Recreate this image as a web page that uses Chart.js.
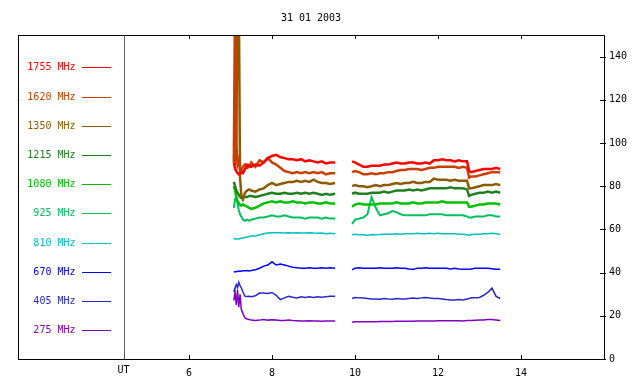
<!DOCTYPE html>
<html>
<head>
<meta charset="utf-8">
<script src="https://cdn.jsdelivr.net/npm/chart.js@4.4.0/dist/chart.umd.min.js"></script>
<style>
html, body { margin: 0; padding: 0; background: #fff; }
</style>
</head>
<body>
<canvas id="radioChart" width="640" height="384"></canvas>
<script>
// Tiêu đề + trục
var chartTitle = "31 01 2003";
var xTicks = [6, 8, 10, 12, 14];
var yTicks = [0, 20, 40, 60, 80, 100, 120, 140];
var labels = ["1755 MHz", "1620 MHz", "1350 MHz", "1215 MHz", "1080 MHz", "925 MHz", "810 MHz", "670 MHz", "405 MHz", "275 MHz"];

// Giờ UT (đoạn 1, khoảng trống, đoạn 2)
var times = [
  7.08, 7.11, 7.14, 7.17, 7.2, 7.23, 7.26, 7.3, 7.35, 7.4, 7.45, 7.5,
  7.6, 7.7, 7.8, 7.9, 8.0, 8.1, 8.2, 8.3, 8.4, 8.5, 8.6, 8.7, 8.8, 8.9, 9.0, 9.1, 9.2, 9.3, 9.4, 9.52,
  9.7,
  9.93, 10.0, 10.1, 10.2, 10.3, 10.4, 10.5, 10.6, 10.7, 10.8, 10.9, 11.0, 11.1, 11.2, 11.3, 11.4, 11.5,
  11.6, 11.7, 11.8, 11.9, 12.0, 12.1, 12.2, 12.3, 12.4, 12.5, 12.6, 12.7, 12.75,
  12.8, 12.9, 13.0, 13.1, 13.2, 13.3, 13.4, 13.5
];

var f1755 = [
  91, 88, 87, 86, 85.5, 86, 86.5, 86, 88, 90, 89.5, 89,
  90, 89.5, 91, 93, 94, 94.5, 93.5, 93, 92.5, 92.5, 92, 92.5, 91.5, 92, 91.5, 91, 91.5, 90.5, 91, 91,
  null,
  91.5, 91, 90, 89, 89, 89.5, 89.5, 89.5, 90, 90, 90.5, 91, 90.5, 90.5, 91, 91, 90.5,
  90.5, 91, 90.5, 92, 92, 92.5, 92, 92, 91.5, 92, 91.5, 91.5, 87,
  86.5, 87, 87.5, 88, 88, 88, 88.5, 88
];
var f1620 = [
  91, 170, 100, 90, 92, 88, 87, 89, 90, 88.5, 89, 91,
  89, 92, 91, 93, 91, 90, 88.5, 87, 86.5, 86, 86.5, 86, 86.5, 86, 86.5, 86, 86.5, 85.5, 86, 86,
  null,
  86.5, 87, 86.5, 85.5, 85.5, 86, 85.5, 86, 86, 86.5, 86.5, 87, 87.5, 87.5, 88, 88, 88,
  87.5, 88, 88.5, 88.5, 89, 89, 89, 89, 89, 88.5, 89, 88.5, 84,
  84.5, 84.5, 85, 85.5, 86, 86.5, 86.5, 86.5
];
var f1350 = [
  94, 92, 100, 170, 170, 84, 76, 74, 77, 78, 78.5, 78,
  77.5, 78.5, 79, 80.5, 81.5, 80.5, 81, 81.5, 82, 82, 82.5, 82, 82.5, 82, 83, 82, 81.5, 81.5, 81, 81.5,
  null,
  80, 80.5, 80, 80, 79.5, 80, 80.5, 80, 80.5, 80.5, 81, 81.5, 81, 81.5, 81.5, 82, 81.5,
  81.5, 82, 82, 83.5, 83, 83, 83, 82.5, 83, 82.5, 82.5, 82.5, 79,
  79, 79.5, 80, 80.5, 80.5, 80.5, 81, 80.5
];
var f1215 = [
  82, 80, 78, 77, 76, 75, 74.5, 74.5, 75, 75, 75.5, 75.5,
  75, 75.5, 76, 76.5, 77, 76.5, 76.5, 77, 76.5, 76.5, 77, 76.5, 77, 76.5, 77, 76.5, 76, 76.5, 76, 76.5,
  null,
  76.5, 77, 76.5, 76.5, 76.5, 77, 77, 77, 77.5, 77, 77.5, 78, 78, 78, 78.5, 78, 78.5,
  78, 78.5, 79, 79, 79, 79, 79, 79.5, 79, 79, 79, 78.5, 75.5,
  76, 76.5, 77, 77, 77.5, 77, 77.5, 77
];
var f1080 = [
  80, 78, 75, 73, 72, 71.5, 71, 71.5, 71, 70.5, 70, 69.5,
  70, 71, 72, 72.5, 73, 72.5, 73, 72.5, 72.5, 73, 72.5, 72.5, 72, 72.5, 72.5, 72, 72, 72.5, 72, 72,
  null,
  70.5, 71.5, 72, 71.5, 71.5, 71.5, 71.5, 72, 72, 72, 72, 72.5, 72, 72, 72, 72.5, 72,
  72, 72.5, 72.5, 72.5, 72.5, 73, 72.5, 72.5, 72.5, 72.5, 72.5, 72.5, 70.5,
  70.5, 71, 71.5, 71.5, 72, 72, 72, 71.5
];
var f925 = [
  70, 74, 75, 72, 69, 67, 66, 64.5, 64, 64.5, 64, 64.5,
  65, 65.5, 65.5, 66, 66.5, 66, 66, 66.5, 66, 65.5, 65.5, 65.5, 65, 65.5, 65.5, 65.5, 65, 65.5, 65, 65,
  null,
  62.5, 64.5, 65, 65.5, 67, 75, 70, 66.5, 67, 67.5, 68.5, 68, 67, 66.5, 66.5, 66.5, 66.5,
  66.5, 66.5, 67, 67, 67, 67, 66.5, 66.5, 66.5, 66.5, 66.5, 66, 65.5,
  65.5, 66, 66, 66, 66.5, 66.5, 66, 66
];
var f810 = [
  56, 55.5, 55.5, 55.5, 55.7, 55.7, 56, 56, 56.3, 56.5, 56.7, 57,
  57, 57.5, 58, 58.3, 58.5, 58.5, 58.5, 58.3, 58.5, 58.3, 58.5, 58.3, 58.3, 58.5, 58.3, 58.2, 58.3, 58, 58.2, 58,
  null,
  57.5, 57.8, 57.5, 57.5, 57.3, 57.5, 57.5, 57.6, 57.8, 57.8, 57.8, 58, 57.8, 58, 58, 58, 58.2,
  58, 58, 58.2, 58, 58.2, 58, 58, 58, 58, 57.8, 57.8, 57.5, 57.3,
  57.6, 57.8, 57.8, 58, 58, 58.2, 58, 57.8
];
var f670 = [
  40.5, 40.3, 40.5, 40.5, 40.7, 40.5, 40.7, 40.8, 40.8, 41, 40.8, 41,
  41.3, 42, 43, 43.5, 45, 43.5, 44, 43.5, 43, 42.5, 42.3, 42, 42, 42.2, 42, 42, 42.2, 42, 42.2, 42,
  null,
  41.3, 42, 42.2, 42, 42, 42, 42, 42.2, 42, 42, 42, 42.2, 42, 42, 41.7, 41.5, 42,
  42, 42.2, 42, 42, 42, 42, 42, 41.7, 42, 41.7, 41.5, 41.5, 41.5,
  41.7, 42, 42, 42, 42, 41.8, 41.6, 41.5
];
var f405 = [
  31, 33, 34.5, 33, 35.5, 34, 33, 31, 29, 28.9, 29, 28.8,
  29.3, 30.5, 30.5, 30.3, 30.8, 29.5, 27.5, 28.3, 29, 28.6, 28.3, 28.8, 28.5, 28.8, 28.5, 28.8, 28.6, 28.8, 29, 29,
  null,
  28, 28.5, 28.3, 28.2, 28, 27.8, 27.8, 27.7, 28, 27.8, 27.7, 28, 27.8, 27.8, 28, 28.2, 28,
  28.3, 28.5, 28.2, 28, 28, 27.8, 27.5, 27.3, 27.3, 27.5, 27.3, 27.8, 28,
  28.3, 28.3, 28.5, 29.5, 30.8, 32.8, 29, 28
];
var f275 = [
  27, 31, 25, 32, 24, 30, 23, 21, 19, 18.5, 18.3, 18,
  17.8, 18, 18.3, 18, 18.2, 18, 17.8, 17.8, 18, 17.8, 17.7, 17.6, 17.6, 17.7, 17.6, 17.6, 17.5, 17.6, 17.6, 17.6,
  null,
  17, 17.2, 17.2, 17.2, 17.3, 17.3, 17.3, 17.4, 17.4, 17.4, 17.4, 17.5, 17.5, 17.5, 17.5, 17.5, 17.6,
  17.6, 17.6, 17.6, 17.6, 17.7, 17.7, 17.7, 17.7, 17.7, 17.7, 17.6, 17.8, 17.8,
  17.8, 17.9, 18, 18.1, 18.3, 18.3, 18.1, 17.8
];

var series = [f1755, f1620, f1350, f1215, f1080, f925, f810, f670, f405, f275];
var colors = ["#ff0000", "#c84000", "#8c5a00", "#208020", "#00c000", "#00c060", "#00c0c0", "#0000ff", "#2828c8", "#8000c0"];
var utHour = 4.43;
var monoFont = '"DejaVu Sans Mono", monospace';

// Khung, vạch chia, đường UT và chú giải bên trái
var framePlugin = {
  id: 'frame',
  afterDraw: function (chart) {
    var c = chart.ctx, a = chart.chartArea;
    var xs = chart.scales.x, ys = chart.scales.y;
    c.save();
    c.strokeStyle = '#000';
    c.lineWidth = 1;
    c.strokeRect(Math.round(a.left) + 0.5, Math.round(a.top) + 0.5, Math.round(a.right - a.left), Math.round(a.bottom - a.top));
    c.beginPath();
    xTicks.forEach(function (v) {
      var px = Math.round(xs.getPixelForValue(v)) + 0.5;
      c.moveTo(px, a.bottom); c.lineTo(px, a.bottom - 4);
      c.moveTo(px, a.top); c.lineTo(px, a.top + 4);
    });
    yTicks.forEach(function (v) {
      var py = Math.round(ys.getPixelForValue(v)) + 0.5;
      c.moveTo(a.right - 4, py); c.lineTo(a.right + 2, py);
    });
    c.stroke();

    var ux = Math.round(xs.getPixelForValue(utHour)) + 0.5;
    c.strokeStyle = '#606060';
    c.beginPath(); c.moveTo(ux, a.top); c.lineTo(ux, a.bottom); c.stroke();

    c.font = '10px ' + monoFont;
    c.fillStyle = '#000';
    c.textAlign = 'center';
    c.textBaseline = 'top';
    c.fillText('UT', ux - 1, a.bottom + 6);

    c.textAlign = 'right';
    c.textBaseline = 'middle';
    chart.data.datasets.forEach(function (ds, i) {
      var y = Math.round(67.3 + i * 29.2) + 0.5;
      c.fillStyle = ds.borderColor;
      c.fillText(ds.label, 75.5, y);
      c.strokeStyle = ds.borderColor;
      c.beginPath(); c.moveTo(82, y); c.lineTo(111, y); c.stroke();
    });
    c.restore();
  }
};

var ctx = document.getElementById('radioChart').getContext('2d');
var radioChart = new Chart(ctx, {
  type: 'line',
  data: {
    datasets: series.map(function (vals, i) {
      return {
        label: labels[i],
        data: times.map(function (t, k) { return { x: t, y: vals[k] }; }),
        borderColor: colors[i],
        backgroundColor: colors[i],
        borderWidth: i < 5 ? 2.5 : (i < 6 ? 2 : 1.5),
        pointRadius: 0,
        tension: 0,
        spanGaps: false
      };
    })
  },
  options: {
    responsive: false,
    animation: false,
    devicePixelRatio: 1,
    layout: { padding: { left: 18, top: 0, right: 0, bottom: 0 } },
    plugins: {
      legend: { display: false },
      tooltip: { enabled: false },
      title: {
        display: true,
        text: chartTitle,
        fullSize: false,
        color: '#000',
        font: { family: monoFont, size: 10, weight: 'normal' },
        padding: { top: 12, bottom: 11 }
      }
    },
    scales: {
      x: {
        type: 'linear',
        min: 1.88,
        max: 16,
        grid: { display: false, drawTicks: false },
        border: { display: false },
        ticks: { color: '#000', font: { family: monoFont, size: 10 }, padding: 8, maxRotation: 0, autoSkip: false },
        afterBuildTicks: function (s) { s.ticks = xTicks.map(function (v) { return { value: v }; }); },
        afterFit: function (s) { s.height = 25; }
      },
      y: {
        position: 'right',
        min: 0,
        max: 150,
        grid: { display: false, drawTicks: false },
        border: { display: false },
        ticks: { color: '#000', font: { family: monoFont, size: 10 }, padding: 5 },
        afterBuildTicks: function (s) { s.ticks = yTicks.map(function (v) { return { value: v }; }); },
        afterFit: function (s) { s.width = 36; }
      }
    }
  },
  plugins: [framePlugin]
});
</script>
</body>
</html>
